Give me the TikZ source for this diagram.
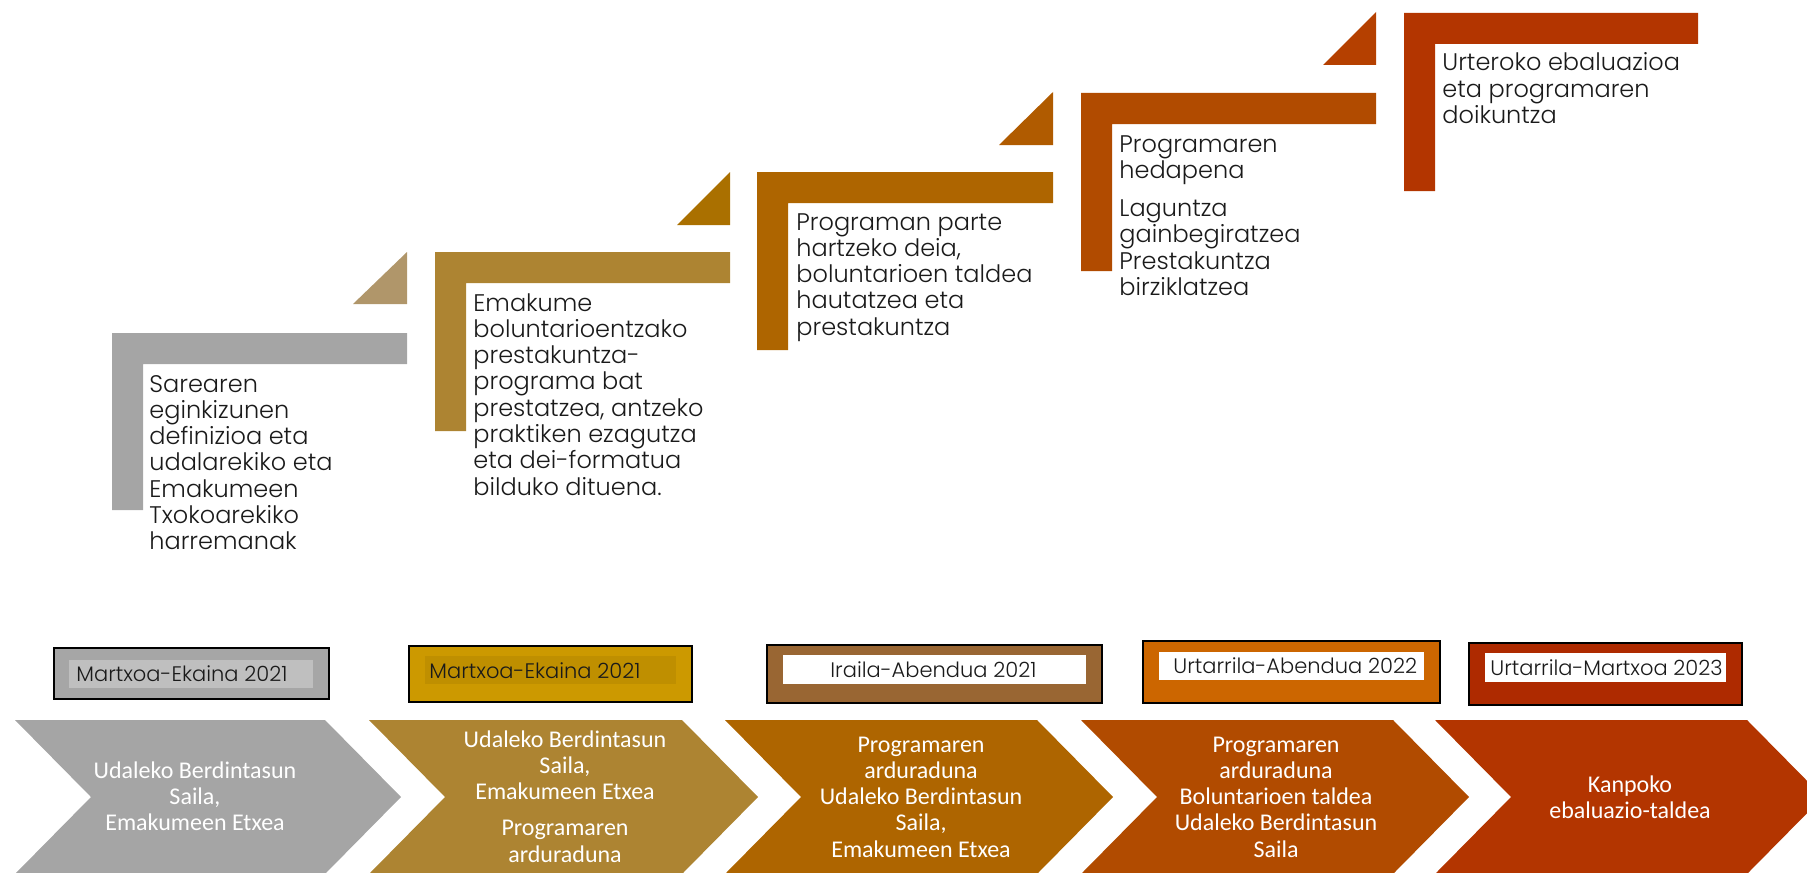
\documentclass[tikz,border=0pt]{standalone}
\usepackage{fontspec}
\newfontfamily\gothic{Poppins Light}
\newfontfamily\calib{Carlito}
\newcommand\leftlines[1]{\vtop{\halign{##\hfil\cr#1\crcr}}}
\newcommand\centerlines[1]{\vtop{\halign{\hfil##\hfil\cr#1\crcr}}}
\definecolor{txt}{HTML}{1A1A1A}
\definecolor{colA}{HTML}{A5A5A5}
\definecolor{colB}{HTML}{AD8432}
\definecolor{colC}{HTML}{AE6500}
\definecolor{colD}{HTML}{B14B00}
\definecolor{colE}{HTML}{B33500}
\definecolor{triA}{HTML}{B0966A}
\definecolor{triB}{HTML}{AA7000}
\definecolor{triC}{HTML}{B05B00}
\definecolor{triD}{HTML}{B54000}
\definecolor{dA}{HTML}{A6A6A6}
\definecolor{dAin}{HTML}{BFBFBF}
\definecolor{dB}{HTML}{CC9900}
\definecolor{dBin}{HTML}{BF8F00}
\definecolor{dC}{HTML}{996633}
\definecolor{dD}{HTML}{CC6600}
\definecolor{dE}{HTML}{AE2A00}
\begin{document}
\begin{tikzpicture}[x=0.5pt,y=-0.5pt,
  steptext/.style={anchor=base west, inner sep=0pt, text=txt, font=\gothic\fontsize{12}{13.15}\selectfont},
  chevtext/.style={anchor=base, inner sep=0pt, text=white, font=\calib\fontsize{12}{13.15}\selectfont},
  datetext/.style={anchor=base west, inner sep=0pt, text=txt, font=\gothic\fontsize{10.5}{12}\selectfont},
  datebox/.style={draw=black, line width=0.8pt}]
\useasboundingbox (0,0) rectangle (1807,872);

% ---- steps (L shapes)
\fill[colA] (112,333) -- (407,333) -- (407,364) -- (143,364) -- (143,510) -- (112,510) -- cycle;
\fill[colB] (435,252) -- (730,252) -- (730,283) -- (466,283) -- (466,431) -- (435,431) -- cycle;
\fill[colC] (757,172) -- (1053,172) -- (1053,203) -- (788,203) -- (788,350) -- (757,350) -- cycle;
\fill[colD] (1081,93) -- (1376,93) -- (1376,124) -- (1112,124) -- (1112,271) -- (1081,271) -- cycle;
\fill[colE] (1404,13) -- (1698,13) -- (1698,44) -- (1435,44) -- (1435,191) -- (1404,191) -- cycle;

% ---- triangles
\fill[triA] (353,304) -- (407,304) -- (407,252) -- cycle;
\fill[triB] (677,225) -- (730,225) -- (730,172) -- cycle;
\fill[triC] (999,145) -- (1053,145) -- (1053,92) -- cycle;
\fill[triD] (1323,65) -- (1376,65) -- (1376,12) -- cycle;

% ---- step texts
\node[steptext] (t1) at (149,392) {\leftlines{Sarearen\cr eginkizunen\cr definizioa eta\cr udalarekiko eta\cr Emakumeen\cr Txokoarekiko\cr harremanak}};
\node[steptext] (t2) at (473,311) {\leftlines{Emakume\cr boluntarioentzako\cr prestakuntza-\cr programa bat\cr prestatzea, antzeko\cr praktiken ezagutza\cr eta dei-formatua\cr bilduko dituena.}};
\node[steptext] (t3) at (796,230) {\leftlines{Programan parte\cr hartzeko deia,\cr boluntarioen taldea\cr hautatzea eta\cr prestakuntza}};
\node[steptext] (t4) at (1119,152) {\leftlines{Programaren\cr hedapena\cr\noalign{\vskip 6pt}Laguntza\cr gainbegiratzea\cr Prestakuntza\cr birziklatzea}};
\node[steptext] (t5) at (1442,71) {\leftlines{Urteroko ebaluazioa\cr eta programaren\cr doikuntza}};

% ---- date boxes
\filldraw[datebox, fill=dA] (54,648) rectangle (329,699);
\fill[dAin] (69,660) rectangle (313,688);
\node[datetext] (d1) at (76,681) {Martxoa-Ekaina 2021};

\filldraw[datebox, fill=dB] (409,646) rectangle (692,702);
\fill[dBin] (425,656) rectangle (676,684);
\node[datetext] (d2) at (429,678) {Martxoa-Ekaina 2021};

\filldraw[datebox, fill=dC] (767,645) rectangle (1102,703);
\fill[white] (783,655) rectangle (1086,684);
\node[datetext] (d3) at (830,677) {Iraila-Abendua 2021};

\filldraw[datebox, fill=dD] (1143,641) rectangle (1440,703);
\fill[white] (1159,652) rectangle (1424,680);
\node[datetext] (d4) at (1173,673) {Urtarrila-Abendua 2022};

\filldraw[datebox, fill=dE] (1469,643) rectangle (1742,705);
\fill[white] (1485,653) rectangle (1726,682);
\node[datetext] (d5) at (1490,675) {Urtarrila-Martxoa 2023};

% ---- chevrons
\fill[colA] (15,720) -- (325,720) -- (401,797) -- (325,874) -- (15,874) -- (91,797) -- cycle;
\fill[colB] (369,720) -- (682,720) -- (758,797) -- (682,874) -- (369,874) -- (445,797) -- cycle;
\fill[colC] (725,720) -- (1037,720) -- (1113,797) -- (1037,874) -- (725,874) -- (801,797) -- cycle;
\fill[colD] (1081,720) -- (1393,720) -- (1469,797) -- (1393,874) -- (1081,874) -- (1157,797) -- cycle;
\fill[colE] (1435,720) -- (1747,720) -- (1823,797) -- (1747,874) -- (1435,874) -- (1511,797) -- cycle;

\node[chevtext] (c1) at (195,778) {\centerlines{Udaleko Berdintasun\cr Saila,\cr Emakumeen Etxea}};
\node[chevtext] (c2) at (565,747) {\centerlines{Udaleko Berdintasun\cr Saila,\cr Emakumeen Etxea\cr\noalign{\vskip 5pt}Programaren\cr arduraduna}};
\node[chevtext] (c3) at (921,752) {\centerlines{Programaren\cr arduraduna\cr Udaleko Berdintasun\cr Saila,\cr Emakumeen Etxea}};
\node[chevtext] (c4) at (1276,752) {\centerlines{Programaren\cr arduraduna\cr Boluntarioen taldea\cr Udaleko Berdintasun\cr Saila}};
\node[chevtext] (c5) at (1630,792) {\centerlines{Kanpoko\cr ebaluazio-taldea}};
\end{tikzpicture}
\end{document}
